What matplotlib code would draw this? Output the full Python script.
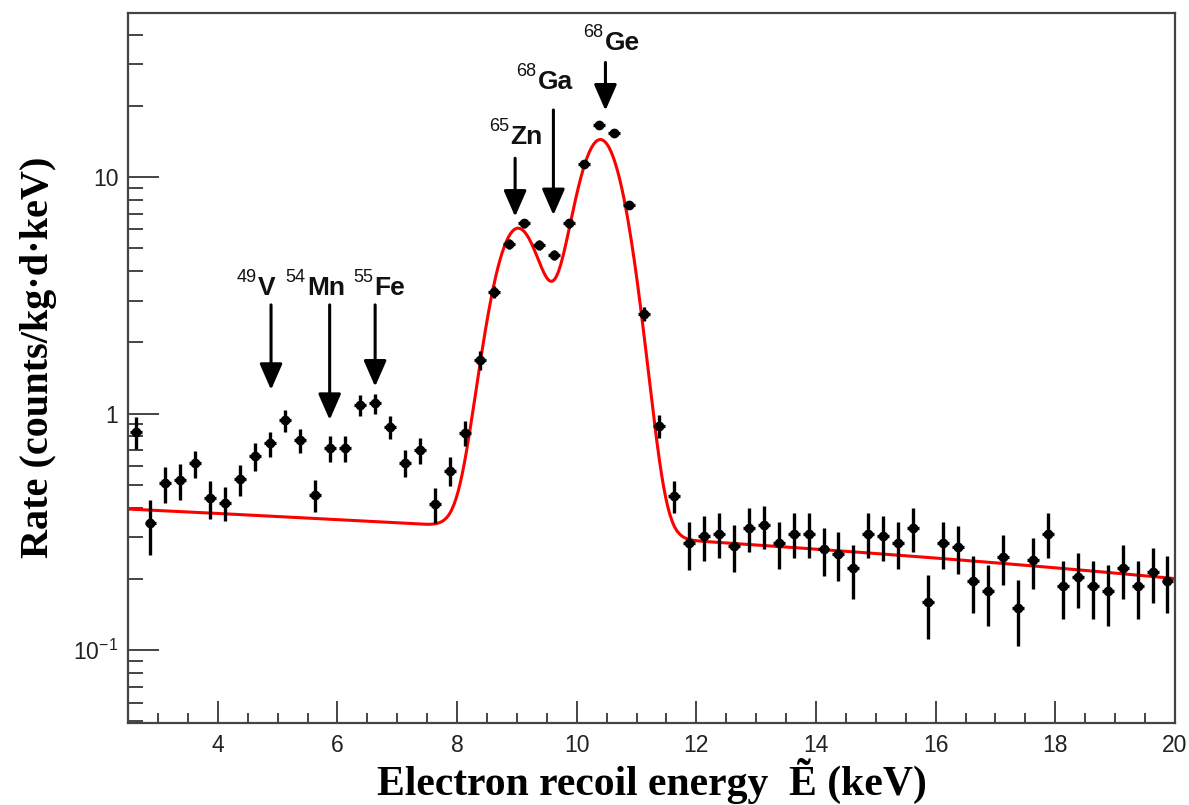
import numpy as np
import matplotlib
matplotlib.use("Agg")
import matplotlib.pyplot as plt
from matplotlib.ticker import (FixedLocator, FixedFormatter, MultipleLocator,
                               LogLocator, NullFormatter)

# spectrum in 0.25 keV bins between 2.5 and 20 keV
bin_width = 0.25
energy = np.arange(2.5, 20.0, bin_width) + bin_width / 2

rate = [0.838, 0.343, 0.507, 0.523, 0.616, 0.438, 0.420, 0.528, 0.663, 0.748,
        0.939, 0.773, 0.452, 0.713, 0.713, 1.086, 1.104, 0.880, 0.619, 0.701,
        0.414, 0.573, 0.829, 1.68, 3.27, 5.21, 6.37, 5.16, 4.68, 6.37,
        11.35, 16.6, 15.3, 7.61, 2.63, 0.890, 0.450, 0.284, 0.303, 0.311,
        0.276, 0.329, 0.338, 0.284, 0.311, 0.311, 0.267, 0.256, 0.222, 0.311,
        0.303, 0.284, 0.329, 0.159, 0.284, 0.273, 0.196, 0.178, 0.248, 0.151,
        0.240, 0.311, 0.187, 0.204, 0.187, 0.178, 0.222, 0.187, 0.214, 0.196]

rate_err = [0.13, 0.09, 0.09, 0.09, 0.08, 0.08, 0.07, 0.08, 0.09, 0.09,
            0.10, 0.09, 0.07, 0.09, 0.09, 0.11, 0.11, 0.10, 0.08, 0.09,
            0.07, 0.08, 0.10, 0.15, 0.20, 0.25, 0.28, 0.25, 0.24, 0.28,
            0.38, 0.45, 0.43, 0.30, 0.18, 0.10, 0.07, 0.065, 0.066, 0.067,
            0.063, 0.069, 0.070, 0.064, 0.067, 0.067, 0.062, 0.061, 0.057, 0.067,
            0.066, 0.064, 0.069, 0.048, 0.064, 0.063, 0.053, 0.051, 0.060, 0.047,
            0.059, 0.067, 0.052, 0.054, 0.052, 0.051, 0.057, 0.052, 0.056, 0.053]

# fit model: linear background + Gaussian K-shell lines (Zn, Ga, Ge)
bg_const = 0.4225
bg_slope = -0.0111
line_energy = [9.00, 9.66, 10.40]
line_height = [5.6, 0.75, 14.0]
line_sigma = 0.36

# labelled x-ray lines
iso_name = ["V", "Mn", "Fe", "Zn", "Ga", "Ge"]
iso_mass = ["49", "54", "55", "65", "68", "68"]
arrow_x = [4.89, 5.87, 6.63, 8.97, 9.61, 10.48]
arrow_top = [2.88, 2.88, 2.88, 12.0, 19.2, 30.5]
arrow_tip = [1.26, 0.94, 1.30, 6.8, 6.9, 19.1]
label_x = [4.815, 5.811, 6.873, 9.164, 9.640, 10.76]
label_y = [3.39, 3.39, 3.39, 14.7, 25.2, 36.9]


def fit(e):
    y = bg_const + bg_slope * e
    for mu, h in zip(line_energy, line_height):
        y = y + h * np.exp(-0.5 * ((e - mu) / line_sigma) ** 2)
    return y


sans = ["Liberation Sans", "DejaVu Sans"]
serif = ["Liberation Serif", "DejaVu Serif"]
plt.rcParams["font.family"] = sans

fig = plt.figure(figsize=(11.89, 8.05), dpi=100)
ax = fig.add_axes([0.1077, 0.1022, 0.8805, 0.882])

efine = np.linspace(2.5, 20.0, 1000)
ax.plot(efine, fit(efine), color="#ff0000", lw=2.2, zorder=2)
ax.errorbar(energy, rate, yerr=rate_err, xerr=0.1, fmt="o", ms=6,
            mfc="k", mec="k", ecolor="k", elinewidth=2.4, capsize=0, zorder=3)

ax.set_yscale("log")
ax.set_xlim(2.5, 20.0)
ax.set_ylim(0.0493, 49.5)

ax.xaxis.set_major_locator(MultipleLocator(2))
ax.xaxis.set_minor_locator(MultipleLocator(0.5))
ax.yaxis.set_major_locator(FixedLocator([0.1, 1, 10]))
ax.yaxis.set_major_formatter(FixedFormatter([r"$\mathregular{10^{-1}}$", "1", "10"]))
ax.yaxis.set_minor_locator(LogLocator(base=10, subs=np.arange(2, 10)))
ax.yaxis.set_minor_formatter(NullFormatter())

ax.tick_params(which="both", direction="in", top=False, right=False,
               color="#444444", labelcolor="#222222", labelsize=16.5)
ax.tick_params(axis="y", which="major", length=22, width=1.4, pad=7)
ax.tick_params(axis="y", which="minor", length=11, width=1.4)
ax.tick_params(axis="x", which="major", length=15.5, width=1.4, pad=8)
ax.tick_params(axis="x", which="minor", length=7.5, width=1.4)
for sp in ax.spines.values():
    sp.set_linewidth(1.6)
    sp.set_color("#444444")

ax.set_xlabel("Electron recoil energy  \u1EBC (keV)", family=serif,
              fontweight="bold", fontsize=30, labelpad=1)
ax.set_ylabel("Rate (counts/kg\u00b7d\u00b7keV)", family=serif,
              fontweight="bold", fontsize=29)
ax.yaxis.set_label_coords(-0.068, 0.515)

for name, mass, x, top, tip, lx, ly in zip(iso_name, iso_mass, arrow_x, arrow_top,
                                           arrow_tip, label_x, label_y):
    ax.annotate("", xy=(x, tip), xytext=(x, top),
                arrowprops=dict(arrowstyle="-|>,head_length=1.6,head_width=0.7",
                                mutation_scale=10, lw=2.2, color="k",
                                shrinkA=0, shrinkB=0), zorder=4)
    t = ax.text(lx, ly, name, ha="center", va="center", fontsize=19,
                fontweight="bold", color="#111111", zorder=4)
    ax.annotate(mass, xy=(0, 1), xycoords=t, xytext=(-1, 5),
                textcoords="offset points", ha="right", va="top",
                fontsize=13, color="#111111", zorder=4)

fig.savefig("out.png", dpi=100)
